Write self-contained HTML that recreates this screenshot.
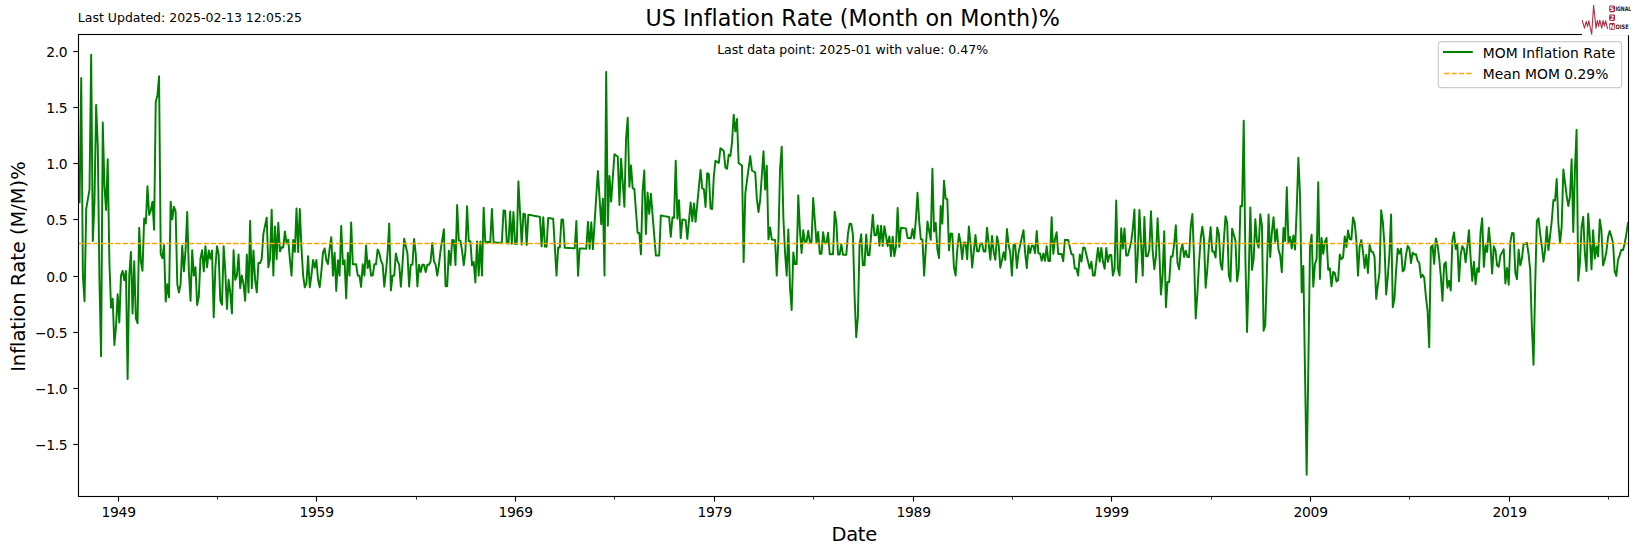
<!DOCTYPE html>
<html><head><meta charset="utf-8"><title>US Inflation Rate (Month on Month)%</title>
<style>
html,body{margin:0;padding:0;background:#fff;}
body{width:1637px;height:554px;overflow:hidden;}
svg{display:block;}
text{font-family:"DejaVu Sans","Liberation Sans",sans-serif;fill:#000;font-variant-ligatures:none;font-feature-settings:"liga" 0,"clig" 0,"dlig" 0;font-kerning:none;}
</style></head><body>
<svg width="1637" height="554" viewBox="0 0 1637 554">
<rect x="0" y="0" width="1637" height="554" fill="#ffffff"/>
<defs><clipPath id="axclip"><rect x="77.92" y="33.7" width="1550.0" height="462.0"/></clipPath></defs>

<g clip-path="url(#axclip)"><polyline points="79.58,202.30 81.23,77.94 82.89,275.60 84.54,301.16 86.20,208.99 87.86,199.20 89.51,189.60 91.17,54.70 92.82,241.13 94.48,201.97 96.14,104.91 97.79,145.90 99.45,280.35 101.10,356.36 102.76,122.47 104.42,185.90 106.07,210.03 107.73,159.18 109.38,261.77 111.04,307.82 112.70,298.68 114.35,344.99 116.01,326.80 117.66,294.30 119.32,322.43 120.98,275.60 122.63,270.89 124.29,280.30 125.94,270.89 127.60,379.03 129.26,275.60 130.91,251.87 132.57,313.48 134.22,261.34 135.88,318.30 137.54,323.23 139.19,227.76 140.85,261.31 142.50,270.84 144.16,218.54 145.82,223.56 147.47,186.12 149.13,214.86 150.78,210.54 152.44,201.67 154.10,229.70 155.75,101.88 157.41,95.52 159.06,76.21 160.72,253.83 162.38,258.22 164.03,245.23 165.69,301.56 167.34,284.27 169.00,297.30 170.66,201.67 172.31,219.43 173.97,206.82 175.62,211.51 177.28,284.09 178.93,292.60 180.59,284.11 182.25,245.77 183.90,271.35 185.56,250.11 187.21,212.01 188.87,271.38 190.53,300.88 192.18,250.26 193.84,275.60 195.49,267.17 197.15,305.07 198.81,296.70 200.46,258.68 202.12,250.26 203.77,271.38 205.43,246.11 207.09,267.20 208.74,250.41 210.40,258.84 212.05,250.50 213.71,317.32 215.37,267.22 217.02,246.30 218.68,254.73 220.33,300.60 221.99,304.83 223.65,246.29 225.30,271.42 226.96,308.99 228.61,279.78 230.27,292.35 231.93,313.35 233.58,250.34 235.24,279.80 236.89,275.60 238.55,254.59 240.21,288.18 241.86,275.60 243.52,283.99 245.17,300.80 246.83,254.55 248.49,292.41 250.14,220.88 251.80,288.16 253.45,250.44 255.11,279.78 256.77,292.34 258.42,263.02 260.08,263.04 261.73,258.87 263.39,233.84 265.05,225.67 266.70,217.61 268.36,267.36 270.01,259.13 271.67,209.81 273.33,275.60 274.98,226.54 276.64,259.32 278.29,222.76 279.95,251.33 281.61,247.34 283.26,247.41 284.92,231.42 286.57,243.59 288.23,239.69 289.89,259.69 291.54,275.60 293.20,239.86 294.85,251.85 296.51,208.45 298.17,252.04 299.82,208.99 301.48,248.33 303.13,275.60 304.79,287.25 306.45,283.38 308.10,256.13 309.76,287.25 311.41,275.60 313.07,260.04 314.73,267.83 316.38,260.07 318.04,279.47 319.69,287.23 321.35,271.72 323.01,252.31 324.66,248.49 326.32,260.14 327.97,264.02 329.63,248.62 331.29,237.15 332.94,275.60 334.60,252.61 336.25,290.89 337.91,260.28 339.57,275.60 341.22,225.89 342.88,264.18 344.53,260.38 346.19,298.38 347.85,252.76 349.50,275.60 351.16,222.43 352.81,264.26 354.47,264.27 356.13,264.28 357.78,275.60 359.44,275.60 361.09,286.90 362.75,264.28 364.41,275.60 366.06,245.45 367.72,268.08 369.37,260.57 371.03,275.60 372.68,275.60 374.34,264.34 376.00,264.36 377.65,249.39 379.31,253.19 380.96,260.69 382.62,264.43 384.28,286.75 385.93,271.87 387.59,253.27 389.24,223.60 390.90,290.38 392.56,275.60 394.21,275.60 395.87,253.39 397.52,260.82 399.18,264.53 400.84,286.65 402.49,264.53 404.15,238.74 405.80,246.21 407.46,253.61 409.12,286.57 410.77,264.61 412.43,264.63 414.08,239.06 415.74,253.75 417.40,286.50 419.05,264.68 420.71,271.96 422.36,264.70 424.02,264.71 425.68,271.97 427.33,264.72 428.99,264.73 430.64,261.12 432.30,243.07 433.96,261.18 435.61,264.80 437.27,275.60 438.92,264.81 440.58,250.46 442.24,239.76 443.89,229.16 445.55,286.27 447.20,286.28 448.86,250.65 450.52,264.93 452.17,240.07 453.83,240.18 455.48,265.00 457.14,205.05 458.80,240.54 460.45,240.65 462.11,251.21 463.76,265.17 465.42,251.29 467.08,206.29 468.73,241.15 470.39,241.26 472.04,265.33 473.70,261.92 475.36,282.43 477.01,241.42 478.67,275.60 480.32,241.52 481.98,275.60 483.64,207.65 485.29,241.83 486.95,241.93 488.60,242.03 490.26,242.13 491.92,208.86 493.57,242.42 495.23,242.52 496.88,242.62 498.54,242.72 500.20,242.81 501.85,242.91 503.51,210.41 505.16,210.78 506.82,243.37 508.48,243.47 510.13,211.52 511.79,243.74 513.44,212.06 515.10,244.01 516.76,244.10 518.41,181.36 520.07,213.29 521.72,244.62 523.38,213.81 525.04,214.15 526.69,245.04 528.35,214.65 530.00,214.97 531.66,215.30 533.32,215.62 534.97,215.94 536.63,216.25 538.28,216.57 539.94,216.87 541.60,246.39 543.25,217.33 544.91,246.61 546.56,246.69 548.22,217.93 549.88,218.22 551.53,218.51 553.19,218.80 554.84,247.34 556.50,275.60 558.16,247.41 559.81,247.48 561.47,219.51 563.12,219.79 564.78,247.83 566.43,247.90 568.09,247.97 569.75,248.03 571.40,248.10 573.06,248.17 574.71,248.24 576.37,221.01 578.03,275.60 579.68,248.43 581.34,248.50 582.99,248.56 584.65,248.63 586.31,248.69 587.96,221.92 589.62,248.89 591.27,222.30 592.93,249.07 594.59,222.68 596.24,196.59 597.90,170.99 599.55,197.86 601.21,224.13 602.87,198.75 604.52,275.60 606.18,72.06 607.83,225.62 609.49,176.08 611.15,201.61 612.80,177.60 614.46,154.15 616.11,155.45 617.77,156.72 619.43,205.02 621.08,158.70 622.74,183.04 624.39,206.75 626.05,138.73 627.71,117.84 629.36,186.70 631.02,165.35 632.67,188.25 634.33,188.93 635.99,211.09 637.64,232.84 639.30,233.00 640.95,254.38 642.61,190.88 644.27,170.50 645.92,233.95 647.58,192.60 649.23,213.81 650.89,193.66 652.55,214.59 654.20,235.15 655.86,255.44 657.51,255.48 659.17,255.52 660.83,215.46 662.48,215.78 664.14,216.10 665.79,216.41 667.45,216.72 669.11,217.03 670.76,236.75 672.42,217.53 674.07,217.83 675.73,160.65 677.39,218.71 679.04,200.12 680.70,238.11 682.35,219.56 684.01,219.83 685.67,220.11 687.32,238.79 688.98,220.56 690.63,202.57 692.29,221.18 693.95,203.39 695.60,221.79 697.26,204.20 698.91,186.91 700.57,170.00 702.23,188.42 703.88,189.09 705.54,206.92 707.19,173.21 708.85,174.13 710.51,208.56 712.16,208.96 713.82,176.23 715.47,160.68 717.13,161.84 718.79,162.98 720.44,148.17 722.10,149.60 723.75,150.99 725.41,167.76 727.07,168.79 728.72,154.68 730.38,155.96 732.03,142.43 733.69,114.74 735.35,131.42 737.00,119.01 738.66,163.28 740.31,164.39 741.97,165.48 743.63,261.97 745.28,193.91 746.94,180.98 748.59,168.37 750.25,156.10 751.91,170.50 753.56,171.47 755.22,172.43 756.87,198.92 758.53,212.13 760.18,199.87 761.84,175.30 763.50,151.34 765.15,189.57 766.81,165.82 768.46,239.36 770.12,227.44 771.78,239.63 773.43,239.74 775.09,239.86 776.74,275.60 778.40,239.97 780.06,169.06 781.71,146.61 783.37,217.63 785.02,252.53 786.68,275.60 788.34,229.56 789.99,287.06 791.65,310.02 793.30,252.58 794.96,264.11 796.62,264.12 798.27,195.35 799.93,230.07 801.58,252.92 803.24,230.34 804.90,241.79 806.55,241.89 808.21,230.79 809.86,242.13 811.52,242.23 813.18,197.96 814.83,220.53 816.49,242.72 818.14,231.88 819.80,253.82 821.46,253.87 823.11,232.22 824.77,243.19 826.42,243.28 828.08,232.63 829.74,254.20 831.39,254.24 833.05,254.28 834.70,211.76 836.36,222.70 838.02,254.54 839.67,254.58 841.33,244.13 842.98,254.67 844.64,254.71 846.30,254.75 847.95,233.99 849.61,223.77 851.26,224.01 852.92,234.52 854.58,296.06 856.23,337.10 857.89,316.83 859.54,244.56 861.20,234.33 862.86,265.32 864.51,265.33 866.17,234.55 867.82,255.15 869.48,255.19 871.14,234.85 872.79,214.70 874.45,235.22 876.10,235.36 877.76,225.48 879.42,245.66 881.07,225.84 882.73,245.87 884.38,226.19 886.04,236.24 887.70,246.18 889.35,236.48 891.01,256.11 892.66,236.68 894.32,256.21 895.98,246.56 897.63,208.03 899.29,246.81 900.94,227.74 902.60,227.95 904.26,228.15 905.91,228.35 907.57,237.95 909.22,238.08 910.88,238.21 912.54,229.01 914.19,238.48 915.85,220.11 917.50,192.77 919.16,220.79 920.82,239.23 922.47,239.35 924.13,275.60 925.78,248.50 927.44,221.53 929.10,230.76 930.75,239.87 932.41,168.75 934.06,231.50 935.72,222.88 937.38,249.36 939.03,258.15 940.69,205.91 942.34,223.65 944.00,180.81 945.66,198.69 947.31,199.21 948.97,250.31 950.62,233.54 952.28,233.70 953.93,267.25 955.59,275.60 957.25,250.57 958.90,233.98 960.56,242.42 962.21,259.06 963.87,242.57 965.53,242.67 967.18,259.18 968.84,226.42 970.49,242.95 972.15,267.46 973.81,251.20 975.46,235.03 977.12,251.34 978.77,251.40 980.43,243.40 982.09,243.49 983.74,251.59 985.40,251.64 987.05,227.78 988.71,243.85 990.37,259.77 992.02,236.08 993.68,251.97 995.33,259.88 996.99,236.36 998.65,244.32 1000.30,267.80 1001.96,260.01 1003.61,252.25 1005.27,260.06 1006.93,229.06 1008.58,244.70 1010.24,252.49 1011.89,275.60 1013.55,244.85 1015.21,244.93 1016.86,267.95 1018.52,252.68 1020.17,245.10 1021.83,237.58 1023.49,230.13 1025.14,252.95 1026.80,268.06 1028.45,245.49 1030.11,253.08 1031.77,245.63 1033.42,245.71 1035.08,253.24 1036.73,230.97 1038.39,253.37 1040.05,253.42 1041.70,260.84 1043.36,253.49 1045.01,260.89 1046.67,246.22 1048.33,260.94 1049.98,260.96 1051.64,217.14 1053.29,253.79 1054.95,239.32 1056.61,232.21 1058.26,253.98 1059.92,254.03 1061.57,254.07 1063.23,261.27 1064.89,239.83 1066.54,239.94 1068.20,240.05 1069.85,247.25 1071.51,254.39 1073.17,254.43 1074.82,268.56 1076.48,268.56 1078.13,275.60 1079.79,254.50 1081.45,261.56 1083.10,247.55 1084.76,247.62 1086.41,254.67 1088.07,261.67 1089.73,268.64 1091.38,261.70 1093.04,275.60 1094.69,275.60 1096.35,261.71 1098.01,247.86 1099.66,261.76 1101.32,247.97 1102.97,261.82 1104.63,268.71 1106.29,248.08 1107.94,261.87 1109.60,255.04 1111.25,255.08 1112.91,275.60 1114.57,268.77 1116.22,200.54 1117.88,268.82 1119.53,275.60 1121.19,228.18 1122.85,248.61 1124.50,228.49 1126.16,255.49 1127.81,255.53 1129.47,248.89 1131.13,242.29 1132.78,229.10 1134.44,209.45 1136.09,282.17 1137.75,255.86 1139.41,209.91 1141.06,242.94 1142.72,275.60 1144.37,216.99 1146.03,256.16 1147.68,256.20 1149.34,249.77 1151.00,211.19 1152.65,249.98 1154.31,269.21 1155.96,256.44 1157.62,218.22 1159.28,250.23 1160.93,294.58 1162.59,275.60 1164.24,231.22 1165.90,307.17 1167.56,281.93 1169.21,281.93 1170.87,256.58 1172.52,256.61 1174.18,244.01 1175.84,225.20 1177.49,263.05 1179.15,269.33 1180.80,250.55 1182.46,244.36 1184.12,256.91 1185.77,250.72 1187.43,256.98 1189.08,257.01 1190.74,226.11 1192.40,214.01 1194.05,257.22 1195.71,318.40 1197.36,294.01 1199.02,263.30 1200.68,238.75 1202.33,226.62 1203.99,239.03 1205.64,287.75 1207.30,269.51 1208.96,245.20 1210.61,227.10 1212.27,251.45 1213.92,251.50 1215.58,257.57 1217.24,227.59 1218.89,233.77 1220.55,263.69 1222.20,269.65 1223.86,239.93 1225.52,216.35 1227.17,222.55 1228.83,275.60 1230.48,281.46 1232.14,228.64 1233.80,234.68 1235.45,240.65 1237.11,281.40 1238.76,269.79 1240.42,205.93 1242.08,206.36 1243.73,120.76 1245.39,258.63 1247.04,332.08 1248.70,275.60 1250.36,207.48 1252.01,269.95 1253.67,258.68 1255.32,219.28 1256.98,241.98 1258.64,247.66 1260.29,214.30 1261.95,225.72 1263.60,330.78 1265.26,325.50 1266.92,270.03 1268.57,214.36 1270.23,256.94 1271.88,231.98 1273.54,217.12 1275.20,241.85 1276.85,229.12 1278.51,249.54 1280.16,255.57 1281.82,272.13 1283.48,227.94 1285.13,240.92 1286.79,187.22 1288.44,243.01 1290.10,236.83 1291.76,248.41 1293.41,235.36 1295.07,249.57 1296.72,209.05 1298.38,157.76 1300.04,195.29 1301.69,292.34 1303.35,265.98 1305.00,372.29 1306.66,474.71 1308.32,368.19 1309.97,247.14 1311.63,234.63 1313.28,286.70 1314.94,264.27 1316.60,259.05 1318.25,182.26 1319.91,278.95 1321.56,237.94 1323.22,253.88 1324.88,241.84 1326.53,237.94 1328.19,269.75 1329.84,268.30 1331.50,286.30 1333.16,271.87 1334.81,273.01 1336.47,281.44 1338.12,280.31 1339.78,254.58 1341.43,259.16 1343.09,257.43 1344.75,236.44 1346.40,247.10 1348.06,230.43 1349.71,239.13 1351.37,239.45 1353.03,217.42 1354.68,222.81 1356.34,239.82 1357.99,275.60 1359.65,246.13 1361.31,240.12 1362.96,251.18 1364.62,268.00 1366.27,254.82 1367.93,272.92 1369.59,244.96 1371.24,251.56 1372.90,252.05 1374.55,256.92 1376.21,298.85 1377.87,284.89 1379.52,272.35 1381.18,210.27 1382.83,221.94 1384.49,245.27 1386.15,294.48 1387.80,276.96 1389.46,253.32 1391.11,214.53 1392.77,307.22 1394.43,299.08 1396.08,270.94 1397.74,248.83 1399.39,253.58 1401.05,248.75 1402.71,271.36 1404.36,269.58 1406.02,254.85 1407.67,245.86 1409.33,248.34 1410.99,263.22 1412.64,252.63 1414.30,254.63 1415.95,254.20 1417.61,260.74 1419.27,262.94 1420.92,277.40 1422.58,274.79 1424.23,277.82 1425.89,296.77 1427.55,310.29 1429.20,347.23 1430.86,247.09 1432.51,245.30 1434.17,263.87 1435.83,238.51 1437.48,244.47 1439.14,257.76 1440.79,275.64 1442.45,300.87 1444.11,264.47 1445.76,262.16 1447.42,287.69 1449.07,280.75 1450.73,290.55 1452.39,240.34 1454.04,232.52 1455.70,249.01 1457.35,244.38 1459.01,281.26 1460.67,254.80 1462.32,246.10 1463.98,249.25 1465.63,262.34 1467.29,247.21 1468.95,230.13 1470.60,257.69 1472.26,280.85 1473.91,261.72 1475.57,284.30 1477.23,268.27 1478.88,271.91 1480.54,232.32 1482.19,218.17 1483.85,266.88 1485.51,245.59 1487.16,251.90 1488.82,227.77 1490.47,245.32 1492.13,273.43 1493.79,246.31 1495.44,250.21 1497.10,265.46 1498.75,266.82 1500.41,255.50 1502.07,252.41 1503.72,249.29 1505.38,283.52 1507.03,267.89 1508.69,284.76 1510.35,241.85 1512.00,233.07 1513.66,233.32 1515.31,272.82 1516.97,279.25 1518.63,249.64 1520.28,265.31 1521.94,258.29 1523.59,243.80 1525.25,243.94 1526.91,242.85 1528.56,253.99 1530.22,270.26 1531.87,326.52 1533.53,364.66 1535.18,285.70 1536.84,221.08 1538.50,218.28 1540.15,233.64 1541.81,246.06 1543.46,261.67 1545.12,250.02 1546.78,226.72 1548.43,250.11 1550.09,235.61 1551.74,221.24 1553.40,200.10 1555.06,200.56 1556.71,178.98 1558.37,223.46 1560.02,243.06 1561.68,226.53 1563.34,169.44 1564.99,182.23 1566.65,195.66 1568.30,206.07 1569.96,196.67 1571.62,159.32 1573.27,231.98 1574.93,169.72 1576.58,129.85 1578.24,280.77 1579.90,263.23 1581.55,227.24 1583.21,216.78 1584.86,253.11 1586.52,271.10 1588.18,213.75 1589.83,237.42 1591.49,269.37 1593.14,230.30 1594.80,258.59 1596.46,246.57 1598.11,256.51 1599.77,219.37 1601.42,230.20 1603.08,265.39 1604.74,259.73 1606.39,251.95 1608.05,237.02 1609.70,231.02 1611.36,236.35 1613.02,242.87 1614.67,271.14 1616.33,275.93 1617.98,259.97 1619.64,255.35 1621.30,249.84 1622.95,250.13 1624.61,244.06 1626.26,234.58 1627.92,223.08" fill="none" stroke="#008000" stroke-width="1.95" stroke-linejoin="round" stroke-linecap="square"/>
<line x1="78.45" x2="1628.5" y1="243.50" y2="243.50" stroke="#ffa500" stroke-width="1.39" stroke-dasharray="5.3 2.0611"/></g>
<line x1="118.50" x2="118.50" y1="496.5" y2="501.66" stroke="#000" stroke-width="1.11"/>
<text x="118.60" y="517.1" font-size="13.89" text-anchor="middle" letter-spacing="-0.25">1949</text>
<line x1="316.50" x2="316.50" y1="496.5" y2="501.66" stroke="#000" stroke-width="1.11"/>
<text x="316.60" y="517.1" font-size="13.89" text-anchor="middle" letter-spacing="-0.25">1959</text>
<line x1="515.50" x2="515.50" y1="496.5" y2="501.66" stroke="#000" stroke-width="1.11"/>
<text x="515.60" y="517.1" font-size="13.89" text-anchor="middle" letter-spacing="-0.25">1969</text>
<line x1="714.50" x2="714.50" y1="496.5" y2="501.66" stroke="#000" stroke-width="1.11"/>
<text x="714.60" y="517.1" font-size="13.89" text-anchor="middle" letter-spacing="-0.25">1979</text>
<line x1="913.50" x2="913.50" y1="496.5" y2="501.66" stroke="#000" stroke-width="1.11"/>
<text x="913.60" y="517.1" font-size="13.89" text-anchor="middle" letter-spacing="-0.25">1989</text>
<line x1="1111.50" x2="1111.50" y1="496.5" y2="501.66" stroke="#000" stroke-width="1.11"/>
<text x="1111.60" y="517.1" font-size="13.89" text-anchor="middle" letter-spacing="-0.25">1999</text>
<line x1="1310.50" x2="1310.50" y1="496.5" y2="501.66" stroke="#000" stroke-width="1.11"/>
<text x="1310.60" y="517.1" font-size="13.89" text-anchor="middle" letter-spacing="-0.25">2009</text>
<line x1="1509.50" x2="1509.50" y1="496.5" y2="501.66" stroke="#000" stroke-width="1.11"/>
<text x="1509.60" y="517.1" font-size="13.89" text-anchor="middle" letter-spacing="-0.25">2019</text>
<line x1="217.50" x2="217.50" y1="496.5" y2="499.58" stroke="#000" stroke-width="0.83"/>
<line x1="416.50" x2="416.50" y1="496.5" y2="499.58" stroke="#000" stroke-width="0.83"/>
<line x1="614.50" x2="614.50" y1="496.5" y2="499.58" stroke="#000" stroke-width="0.83"/>
<line x1="813.50" x2="813.50" y1="496.5" y2="499.58" stroke="#000" stroke-width="0.83"/>
<line x1="1012.50" x2="1012.50" y1="496.5" y2="499.58" stroke="#000" stroke-width="0.83"/>
<line x1="1211.50" x2="1211.50" y1="496.5" y2="499.58" stroke="#000" stroke-width="0.83"/>
<line x1="1409.50" x2="1409.50" y1="496.5" y2="499.58" stroke="#000" stroke-width="0.83"/>
<line x1="1608.50" x2="1608.50" y1="496.5" y2="499.58" stroke="#000" stroke-width="0.83"/>
<line x1="73.34" x2="78.5" y1="444.50" y2="444.50" stroke="#000" stroke-width="1.11"/>
<text x="67.2" y="449.90" font-size="13.89" text-anchor="end" letter-spacing="-0.37">−1.5</text>
<line x1="73.34" x2="78.5" y1="388.50" y2="388.50" stroke="#000" stroke-width="1.11"/>
<text x="67.2" y="393.90" font-size="13.89" text-anchor="end" letter-spacing="-0.37">−1.0</text>
<line x1="73.34" x2="78.5" y1="332.50" y2="332.50" stroke="#000" stroke-width="1.11"/>
<text x="67.2" y="337.90" font-size="13.89" text-anchor="end" letter-spacing="-0.37">−0.5</text>
<line x1="73.34" x2="78.5" y1="276.50" y2="276.50" stroke="#000" stroke-width="1.11"/>
<text x="67.2" y="281.90" font-size="13.89" text-anchor="end" letter-spacing="-0.37">0.0</text>
<line x1="73.34" x2="78.5" y1="219.50" y2="219.50" stroke="#000" stroke-width="1.11"/>
<text x="67.2" y="224.90" font-size="13.89" text-anchor="end" letter-spacing="-0.37">0.5</text>
<line x1="73.34" x2="78.5" y1="163.50" y2="163.50" stroke="#000" stroke-width="1.11"/>
<text x="67.2" y="168.90" font-size="13.89" text-anchor="end" letter-spacing="-0.37">1.0</text>
<line x1="73.34" x2="78.5" y1="107.50" y2="107.50" stroke="#000" stroke-width="1.11"/>
<text x="67.2" y="112.90" font-size="13.89" text-anchor="end" letter-spacing="-0.37">1.5</text>
<line x1="73.34" x2="78.5" y1="51.50" y2="51.50" stroke="#000" stroke-width="1.11"/>
<text x="67.2" y="56.90" font-size="13.89" text-anchor="end" letter-spacing="-0.37">2.0</text>
<rect x="78.5" y="34.5" width="1550.0" height="462.0" fill="none" stroke="#000" stroke-width="1.11"/>
<text x="77.8" y="22.2" font-size="12.5">Last Updated: 2025-02-13 12:05:25</text>
<text x="852.7" y="26.1" font-size="22.22" text-anchor="middle" letter-spacing="0.03">US Inflation Rate (Month on Month)%</text>
<text x="852.6" y="54.1" font-size="12.5" text-anchor="middle">Last data point: 2025-01 with value: 0.47%</text>
<text x="854.2" y="541.0" font-size="19.44" text-anchor="middle" letter-spacing="-0.3">Date</text>
<text transform="translate(25.1,266.6) rotate(-90)" font-size="19.44" text-anchor="middle">Inflation Rate (M/M)%</text>
<rect x="1438.3" y="41.6" width="183.3" height="46.0" rx="2.78" ry="2.78" fill="#ffffff" fill-opacity="0.8" stroke="#cccccc" stroke-width="1.15"/>
<line x1="1443.0" x2="1472.8" y1="52.0" y2="52.0" stroke="#008000" stroke-width="2.08"/>
<line x1="1444.3" x2="1472" y1="73.5" y2="73.5" stroke="#ffa500" stroke-width="1.39" stroke-dasharray="5.14 2.22"/>
<text x="1482.8" y="57.9" font-size="13.89">MOM Inflation Rate</text>
<text x="1482.8" y="79.2" font-size="13.89">Mean MOM 0.29%</text>
<g>
<rect x="1582" y="0" width="55" height="35.2" fill="#ffffff"/>
<polyline points="1582.3,20.6 1584.5,28.1 1586.2,21.3 1587.6,26.4 1588.8,20.9 1591.7,34.3 1593.6,5.3 1596.0,28.1 1597.3,20.6 1598.6,26.4 1599.8,20.2 1601.7,28.1 1603.0,20.6 1604.4,26.1 1605.6,20.6 1607.5,28.5" fill="none" stroke="#a81e33" stroke-width="1.1" stroke-linejoin="round" stroke-linecap="round" stroke-opacity="0.92"/>
<rect x="1609.2" y="5.4" width="5.8" height="6.8" rx="1.4" fill="#a81e33"/>
<rect x="1609.2" y="14.6" width="5.8" height="6.4" rx="1.4" fill="#a81e33"/>
<rect x="1609.2" y="23.1" width="5.8" height="6.7" rx="1.4" fill="#a81e33"/>
<text x="1612.1" y="11.2" font-size="6.2" font-weight="bold" text-anchor="middle" style="fill:#ffffff">S</text>
<text x="1612.1" y="20.1" font-size="6.2" font-weight="bold" text-anchor="middle" style="fill:#ffffff">2</text>
<text x="1612.1" y="28.8" font-size="6.2" font-weight="bold" text-anchor="middle" style="fill:#ffffff">N</text>
<text x="1615.4" y="11.3" font-size="6.1" font-weight="bold" textLength="15.8" lengthAdjust="spacingAndGlyphs" style="fill:#1a1a1a">IGNAL</text>
<text x="1615.5" y="28.8" font-size="6.1" font-weight="bold" textLength="13.1" lengthAdjust="spacingAndGlyphs" style="fill:#1a1a1a">OISE</text>
</g>

</svg></body></html>
